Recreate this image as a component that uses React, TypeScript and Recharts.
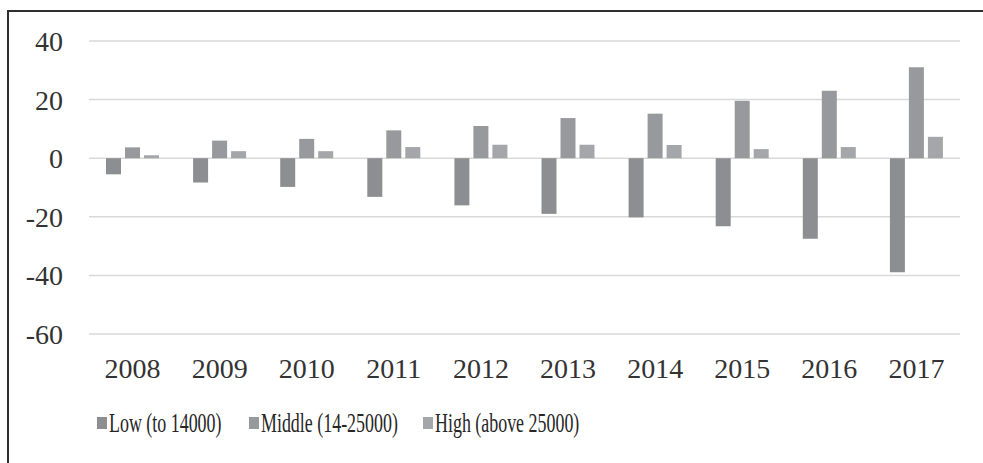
import { BarChart, Bar, XAxis, YAxis, CartesianGrid, Legend } from "recharts";

const years = ["2008", "2009", "2010", "2011", "2012", "2013", "2014", "2015", "2016", "2017"];
const low = [-5.5, -8.3, -9.8, -13.2, -16.1, -19, -20.2, -23.2, -27.5, -38.9];
const middle = [3.7, 6, 6.6, 9.5, 11, 13.7, 15.2, 19.6, 23, 31];
const high = [1, 2.4, 2.4, 3.8, 4.6, 4.6, 4.5, 3.1, 3.8, 7.3];
const yTicks = [-60, -40, -20, 0, 20, 40];

const seriesNames = ["Low (to 14000)", "Middle (14-25000)", "High (above 25000)"];
const seriesColors = ["#8d8e92", "#98999d", "#a5a6a9"];

const data = years.map((year, i) => ({
  year,
  low: low[i],
  middle: middle[i],
  high: high[i],
}));

const font = '"Liberation Serif", "Times New Roman", serif';

function LegendContent() {
  return (
    <div style={{ position: "relative", height: 30, fontFamily: font }}>
      {seriesNames.map((name, i) => (
        <div
          key={name}
          style={{
            position: "absolute",
            left: [97, 249, 423][i],
            top: 0,
            display: "flex",
            alignItems: "center",
            whiteSpace: "nowrap",
          }}
        >
          <span
            style={{
              display: "inline-block",
              width: 10,
              height: 12,
              background: seriesColors[i],
              marginRight: 2,
            }}
          />
          <span
            style={{
              display: "inline-block",
              fontSize: 28,
              color: "#262626",
              transform: "scaleX(0.64)",
              transformOrigin: "left center",
              lineHeight: "30px",
            }}
          >
            {name}
          </span>
        </div>
      ))}
    </div>
  );
}

export default function App() {
  return (
    <div
      style={{
        position: "absolute",
        left: 0,
        top: 0,
        width: 983,
        height: 463,
        overflow: "hidden",
        background: "#fff",
      }}
    >
      <div
        style={{
          position: "absolute",
          left: 7,
          top: 10,
          width: 1100,
          height: 600,
          borderTop: "2px solid #2e2e2e",
          borderLeft: "2px solid #2e2e2e",
        }}
      />
      <BarChart
        width={983}
        height={463}
        data={data}
        margin={{ top: 41, right: 23, bottom: 69, left: 29 }}
        barSize={15}
        barGap={4}
        style={{ position: "absolute", left: 0, top: 0 }}
      >
        <CartesianGrid vertical={false} stroke="#d9d9d9" strokeWidth={1.5} />
        <XAxis
          dataKey="year"
          axisLine={false}
          tickLine={false}
          tickMargin={18}
          interval={0}
          tick={{ fill: "#333", fontSize: 28, fontFamily: font }}
        />
        <YAxis
          width={60}
          domain={[-60, 40]}
          ticks={yTicks}
          axisLine={false}
          tickLine={false}
          tickMargin={20}
          tick={{ fill: "#333", fontSize: 28, fontFamily: font }}
        />
        <Legend
          content={<LegendContent />}
          wrapperStyle={{ position: "absolute", left: 0, top: 408, width: 983 }}
        />
        <Bar dataKey="low" name={seriesNames[0]} fill={seriesColors[0]} isAnimationActive={false} />
        <Bar dataKey="middle" name={seriesNames[1]} fill={seriesColors[1]} isAnimationActive={false} />
        <Bar dataKey="high" name={seriesNames[2]} fill={seriesColors[2]} isAnimationActive={false} />
      </BarChart>
    </div>
  );
}
